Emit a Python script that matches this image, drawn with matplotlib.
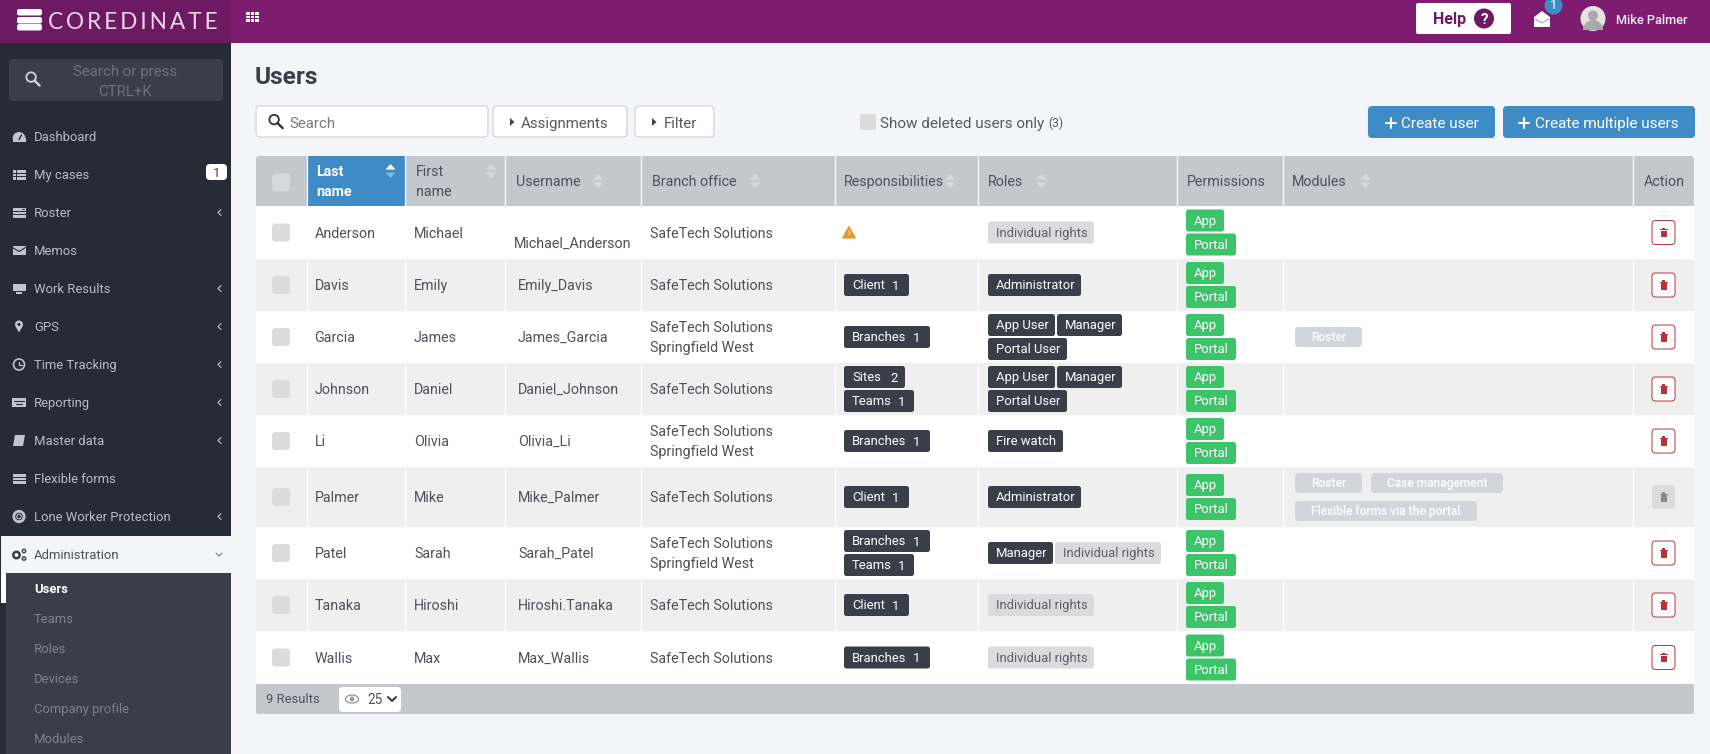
import matplotlib
matplotlib.use("Agg")
import matplotlib.pyplot as plt
from matplotlib.patches import FancyBboxPatch, Circle, Ellipse, Polygon, Wedge, Rectangle

plt.rcParams["font.family"] = ["Roboto", "DejaVu Sans"]

# --- table content ---
last_names = ["Anderson", "Davis", "Garcia", "Johnson", "Li", "Palmer", "Patel", "Tanaka", "Wallis"]
first_names = ["Michael", "Emily", "James", "Daniel", "Olivia", "Mike", "Sarah", "Hiroshi", "Max"]
usernames = ["Michael_Anderson", "Emily_Davis", "James_Garcia", "Daniel_Johnson", "Olivia_Li",
             "Mike_Palmer", "Sarah_Patel", "Hiroshi.Tanaka", "Max_Wallis"]
branches = [["SafeTech Solutions"], ["SafeTech Solutions"],
            ["SafeTech Solutions", "Springfield West"], ["SafeTech Solutions"],
            ["SafeTech Solutions", "Springfield West"], ["SafeTech Solutions"],
            ["SafeTech Solutions", "Springfield West"], ["SafeTech Solutions"], ["SafeTech Solutions"]]
responsibilities = [[], [("Client", 1)], [("Branches", 1)], [("Sites", 2), ("Teams", 1)], [("Branches", 1)],
                    [("Client", 1)], [("Branches", 1), ("Teams", 1)], [("Client", 1)], [("Branches", 1)]]
roles = [[["Individual rights"]], [["Administrator"]], [["App User", "Manager"], ["Portal User"]],
         [["App User", "Manager"], ["Portal User"]], [["Fire watch"]], [["Administrator"]],
         [["Manager", "Individual rights"]], [["Individual rights"]], [["Individual rights"]]]
modules = [[], [], [["Roster"]], [], [], [["Roster", "Case management"], ["Flexible forms via the portal"]],
           [], [], []]
menu_items = ["Dashboard", "My cases", "Roster", "Memos", "Work Results", "GPS", "Time Tracking",
              "Reporting", "Master data", "Flexible forms", "Lone Worker Protection", "Administration"]
menu_icons = ["gauge", "table", "server", "mail", "monitor", "pin", "clock", "keyboard", "book", "list",
              "ring", "cogs"]
menu_arrows = ["Roster", "Work Results", "GPS", "Time Tracking", "Reporting", "Master data",
               "Lone Worker Protection"]
submenu_items = ["Users", "Teams", "Roles", "Devices", "Company profile", "Modules"]

# --- layout in pixels ---
W, H = 1710, 754
row_edges = [206, 259, 311, 363, 415, 467, 527, 579, 631, 684]
col_edges = [256, 306.5, 405, 505, 641, 834.5, 978, 1177, 1282.5, 1632.5, 1694]
badge_widths = {"Branches": 86, "Client": 65, "Sites": 61, "Teams": 70}
count_offsets = {"Branches": 73, "Client": 52, "Sites": 50, "Teams": 58}
role_widths = {"App User": 67, "Manager": 65, "Portal User": 79, "Fire watch": 75,
               "Administrator": 93, "Individual rights": 106}
module_widths = {"Roster": 67, "Case management": 132, "Flexible forms via the portal": 182}

# --- colours ---
PURPLE = "#7e1c70"
PURPLE_DARK = "#6d1a63"
SIDEBAR = "#262b36"
SUBMENU = "#3a3e49"
PAGE = "#f3f5f8"
HEADER = "#c3c8cf"
BLUE = "#3f8bc6"
ZEBRA = "#efefef"
DARK_BADGE = "#3a3e49"
GREEN = "#3cc568"
GREY_BADGE = "#dbdbdd"
MOD_BADGE = "#d2d5da"
TEXT = "#4d5159"
MENU_TEXT = "#b8bcc4"
SUB_TEXT = "#7d828b"
RED = "#b5343c"

fig = plt.figure(figsize=(W / 100, H / 100), dpi=100)
ax = fig.add_axes([0, 0, 1, 1])
ax.set_xlim(0, W)
ax.set_ylim(H, 0)
ax.axis("off")


def box(x0, y0, x1, y1, color, r=0, ec="none", lw=0, z=2):
    if r == 0:
        ax.add_patch(Rectangle((x0, y0), x1 - x0, y1 - y0, fc=color, ec=ec, lw=lw, zorder=z))
    else:
        ax.add_patch(FancyBboxPatch((x0, y0), x1 - x0, y1 - y0, boxstyle=f"round,pad=0,rounding_size={r}",
                                    fc=color, ec=ec, lw=lw, zorder=z))


def txt(x, y, s, px=14, color=TEXT, weight="normal", ha="left", **kw):
    # baseline anchored, so that letters with and without descenders line up
    ax.text(x, y + 0.355 * px, s, fontsize=px * 0.72, color=color, fontweight=weight, ha=ha,
            va="baseline", zorder=6, **kw)


def line(xs, ys, color, lw=1.0, z=5):
    ax.plot(xs, ys, color=color, lw=lw, zorder=z, solid_capstyle="round")


def search_icon(x, y, color, s=1.0):
    ax.add_patch(Circle((x - 2 * s, y - 2 * s), 5 * s, fc="none", ec=color, lw=1.3, zorder=5))
    line([x + 1.5 * s, x + 7 * s], [y + 1.5 * s, y + 7 * s], color, 1.7)


def sort_icon(x, y, up="#d6dade", down="#d6dade"):
    ax.add_patch(Polygon([[x - 5, y - 1.5], [x + 5, y - 1.5], [x, y - 7]], fc=up, zorder=5))
    ax.add_patch(Polygon([[x - 5, y + 1.5], [x + 5, y + 1.5], [x, y + 7]], fc=down, zorder=5))


def trash(x, y, color):
    box(x - 3, y - 2, x + 3, y + 4.5, color, z=7)
    box(x - 4, y - 3.5, x + 4, y - 2.4, color, z=7)
    box(x - 1.3, y - 4.8, x + 1.3, y - 3.5, color, z=7)


def menu_icon(kind, x, y, c, bg):
    if kind == "gauge":
        ax.add_patch(Wedge((x, y + 2), 6.5, 180, 360, fc=c, zorder=5))
        box(x - 6.5, y + 1, x + 6.5, y + 5, c, z=5)
        line([x, x + 2.5], [y + 3, y - 1.5], bg, 1.0)
    elif kind == "table":
        box(x - 6.5, y - 5, x + 6.5, y + 5, c, z=5)
        line([x - 3, x - 3], [y - 5, y + 5], bg, 0.7)
        line([x - 6.5, x + 6.5], [y - 1.6, y - 1.6], bg, 0.7)
        line([x - 6.5, x + 6.5], [y + 1.6, y + 1.6], bg, 0.7)
    elif kind == "server":
        box(x - 6.5, y - 5, x + 6.5, y + 5, c, z=5)
        line([x - 6.5, x + 6.5], [y - 1.6, y - 1.6], bg, 0.7)
        line([x - 6.5, x + 6.5], [y + 1.6, y + 1.6], bg, 0.7)
        line([x + 3, x + 5], [y - 3.4, y - 3.4], bg, 0.7)
    elif kind == "mail":
        box(x - 6.5, y - 4.5, x + 6.5, y + 4.5, c, z=5)
        line([x - 6.5, x, x + 6.5], [y - 3, y + 1, y - 3], bg, 0.8)
    elif kind == "monitor":
        box(x - 6.5, y - 5, x + 6.5, y + 2.5, c, z=5)
        box(x - 3, y + 3.5, x + 3, y + 5, c, z=5)
    elif kind == "pin":
        ax.add_patch(Circle((x, y - 2), 4, fc=c, zorder=5))
        ax.add_patch(Polygon([[x - 3.5, y], [x + 3.5, y], [x, y + 6]], fc=c, zorder=5))
        ax.add_patch(Circle((x, y - 2), 1.5, fc=bg, zorder=6))
    elif kind == "clock":
        ax.add_patch(Circle((x, y), 5.5, fc="none", ec=c, lw=1.2, zorder=5))
        line([x, x, x + 2.5], [y - 3, y, y], c, 0.9)
    elif kind == "keyboard":
        box(x - 7, y - 4.5, x + 7, y + 4.5, c, z=5)
        line([x - 5, x + 5], [y - 1.5, y - 1.5], bg, 0.8)
        line([x - 3, x + 3], [y + 1.8, y + 1.8], bg, 0.8)
    elif kind == "book":
        ax.add_patch(Polygon([[x - 4, y - 5.5], [x + 6, y - 5.5], [x + 4, y + 5.5], [x - 6, y + 5.5]],
                             fc=c, zorder=5))
    elif kind == "list":
        box(x - 6.5, y - 5, x + 6.5, y + 5, c, z=5)
        line([x - 6.5, x + 6.5], [y - 1.6, y - 1.6], bg, 0.7)
        line([x - 6.5, x + 6.5], [y + 1.6, y + 1.6], bg, 0.7)
    elif kind == "ring":
        ax.add_patch(Circle((x, y), 5.2, fc="none", ec=c, lw=2.0, zorder=5))
        ax.add_patch(Circle((x, y), 2.2, fc="none", ec=c, lw=0.8, zorder=5))
    elif kind == "cogs":
        ax.add_patch(Circle((x - 2.5, y + 0.5), 3.2, fc="none", ec=c, lw=1.8, zorder=5))
        ax.add_patch(Circle((x + 5, y - 3.5), 1.7, fc="none", ec=c, lw=1.0, zorder=5))
        ax.add_patch(Circle((x + 5, y + 4), 1.7, fc="none", ec=c, lw=1.0, zorder=5))


# --- page frame ---
box(0, 0, W, H, PAGE, z=0)
box(0, 43, 231, H, SIDEBAR, z=1)
box(0, 0, W, 43, PURPLE, z=1)
box(0, 0, 231, 43, PURPLE_DARK, z=1)

# logo
for y0 in (9, 17, 24):
    box(17, y0, 42, y0 + 6.5, "white", r=2.2)
txt(48, 20.5, "\u2009".join("COREDINATE"), px=22.6, color="#e9d6e6", family=["Lato", "DejaVu Sans"])

# grid icon in top bar
for gx in (246, 250.5, 255):
    for gy in (12, 15.5, 19):
        box(gx, gy, gx + 3.6, gy + 2.8, "white")

# top right
box(1416, 3, 1511, 34, "white", r=2)
txt(1433, 18, "Help", px=16, color=PURPLE_DARK, weight="bold")
ax.add_patch(Circle((1484, 18.5), 10, fc=PURPLE_DARK, zorder=5))
txt(1484, 18.5, "?", px=15, color="white", weight="bold", ha="center")
ax.add_patch(Polygon([[1534, 17], [1542, 11], [1550, 17], [1550, 27], [1534, 27]], fc="white", zorder=5))
line([1535, 1542, 1549], [19, 23, 19], "#999999", 0.7)
ax.add_patch(Circle((1553.5, 5.5), 9, fc=BLUE, zorder=6))
ax.text(1553.5, 5.5, "1", fontsize=9.5, color="white", ha="center", va="center", zorder=7)
ax.add_patch(Circle((1593, 18.5), 12.5, fc="#e4e4e4", zorder=5))
ax.add_patch(Circle((1593, 15.5), 5, fc="#a9a9a9", zorder=6))
ax.add_patch(Wedge((1593, 30), 10, 180, 360, fc="#a9a9a9", zorder=6))
txt(1616, 19, "Mike Palmer", px=12.8, color="#f4eaf3", weight="medium")

# --- sidebar ---
box(9, 59, 223, 101, SUBMENU, r=4)
search_icon(33, 79, "#d0d3d8", 0.95)
txt(125, 71, "Search or press", px=15, color="#6c717a", ha="center")
txt(125, 91, "CTRL+K", px=15, color="#6c717a", ha="center")

for i, (item, icon) in enumerate(zip(menu_items, menu_icons)):
    y = 136.5 + i * 38
    if item == "Administration":
        box(1, y - 19, 231, y + 19, PAGE, z=2)
        menu_icon(icon, 19, y, "#3a3e49", PAGE)
        txt(34, y, item, px=13, color="#4a4e57")
        line([216, 219, 222], [y - 1.5, y + 1.5, y - 1.5], "#666a72", 0.7)
        continue
    menu_icon(icon, 19, y, "#c2c5cb", SIDEBAR)
    txt(34, y, item, px=13, color=MENU_TEXT)
    if item in menu_arrows:
        line([221, 218, 221], [y - 3, y, y + 3], "#c2c5cb", 0.8)
box(206, 164, 227, 180, "white", r=4)
txt(216.5, 172.5, "1", px=13, color="#444444", ha="center")

box(6, 573, 231, H, SUBMENU, z=2)
box(1, 573, 6, 603, "white", z=3)
for i, item in enumerate(submenu_items):
    y = 588 + i * 30
    if item == "Users":
        txt(34, y, item, px=13, color="white", weight="bold")
    else:
        txt(34, y, item, px=13, color=SUB_TEXT)

# --- toolbar ---
txt(255, 75, "Users", px=24.5, color="#3a3e49", weight="bold")
box(256, 106, 488, 137, "white", r=4, ec="#c9c9c9", lw=0.7)
search_icon(276, 121.5, "#333333", 0.95)
txt(289, 122.5, "Search", px=15, color="#7a7a7a")
for x0, x1, tri, tx, label in ((493, 627, 510, 521, "Assignments"), (635, 714, 652, 664, "Filter")):
    box(x0, 106, x1, 137, "white", r=4, ec="#c9c9c9", lw=0.7)
    ax.add_patch(Polygon([[tri, 118], [tri + 4.5, 122], [tri, 126]], fc="#444444", zorder=5))
    txt(tx, 122.5, label, px=15, color="#595959")
box(860, 114, 876, 130, "#dcdcdc", r=2)
txt(880, 122.5, "Show deleted users only", px=15.2, color="#595959")
txt(1048, 123, "(3)", px=12, color="#595959")
for x0, x1, px_, tx, label in ((1368, 1495, 1391, 1401, "Create user"),
                               (1503, 1695, 1524, 1535, "Create multiple users")):
    box(x0, 106, x1, 138, BLUE, r=4)
    line([px_ - 5, px_ + 5], [122.5, 122.5], "white", 1.5)
    line([px_, px_], [117.5, 127.5], "white", 1.5)
    txt(tx, 122.5, label, px=15.2, color="white")

# --- table ---
box(256, 156, 1694, 206, HEADER, r=3)
box(256, 200, 1694, 206, HEADER)
box(col_edges[1], 156, col_edges[2], 206, BLUE, z=3)
for i, (top, bottom) in enumerate(zip(row_edges[:-1], row_edges[1:])):
    box(256, top, 1694, bottom, "white" if i % 2 == 0 else ZEBRA, z=1)
    if i % 2:
        for cx in col_edges[1:-1]:
            line([cx, cx], [top, bottom], "white", 0.9, z=2)
for cx in col_edges[1:-1]:
    line([cx, cx], [156, 206], "white", 0.9, z=4)

box(272, 173.5, 290, 191.5, "#d5d8dc", r=3)
txt(316, 171, "Last", px=14.3, color="white", weight="bold")
txt(316, 191, "name", px=14.3, color="white", weight="bold")
txt(416, 171, "First", px=14.3)
txt(416, 191, "name", px=14.3)
sort_icon(390.5, 171, "white", "#7fb7e3")
sort_icon(491, 171)
header_labels = ["Username", "Branch office", "Responsibilities", "Roles", "Permissions", "Modules"]
header_x = [516, 652, 844, 988, 1187, 1292]
sort_x = [598, 755, 950, 1041.5, None, 1365.5]
for label, hx, sx in zip(header_labels, header_x, sort_x):
    txt(hx, 181, label, px=14.3)
    if sx:
        sort_icon(sx, 181)
txt(1664, 181, "Action", px=14.3, ha="center")

for i in range(len(last_names)):
    top, bottom = row_edges[i], row_edges[i + 1]
    yc = (top + bottom) / 2
    box(272, yc - 9, 290, yc + 9, "#dcdcdc", r=3, z=3)
    txt(314.5, yc, last_names[i], px=14.3)
    txt(414, yc, first_names[i], px=14.3)
    if i == 0:
        txt(514, yc + 10.5, usernames[i], px=14.3)
    else:
        txt(518, yc, usernames[i], px=14.3)

    # branch office, one or two lines
    lines = branches[i]
    for k, b in enumerate(lines):
        txt(650, yc + (k - (len(lines) - 1) / 2) * 20, b, px=14.3)

    # responsibilities
    resp = responsibilities[i]
    if not resp:
        ax.add_patch(Polygon([[849, yc - 6], [855.5, yc + 5.5], [842.5, yc + 5.5]], fc="#e39a2c",
                             ec="#e39a2c", lw=0.8, zorder=5))
        line([849, 849], [yc - 2, yc + 1.5], "white", 0.9, z=6)
    for k, (name, n) in enumerate(resp):
        by = yc - 11 + (k - (len(resp) - 1) / 2) * 24
        box(844, by, 844 + badge_widths[name], by + 22, DARK_BADGE, r=2.5, z=3)
        txt(852, by + 10.5, name, px=13, color="white")
        txt(844 + count_offsets[name], by + 11, str(n), px=13, color="white", ha="center")

    # roles
    rows_ = roles[i]
    for k, rr in enumerate(rows_):
        by = yc - 11 + (k - (len(rows_) - 1) / 2) * 24
        bx = 988
        for name in rr:
            grey = name == "Individual rights"
            box(bx, by, bx + role_widths[name], by + 22, GREY_BADGE if grey else DARK_BADGE, r=2.5, z=3)
            txt(bx + 8, by + 10.5, name, px=13, color="#5c5f66" if grey else "white")
            bx += role_widths[name] + 2

    # permissions
    for by, name, bw in ((yc - 23, "App", 38), (yc + 1, "Portal", 50)):
        box(1186, by, 1186 + bw, by + 22, GREEN, r=2.5, z=3)
        txt(1194, by + 10.5, name, px=13, color="white")

    # modules
    mods = modules[i]
    for k, mm in enumerate(mods):
        by = yc - 10 + (k - (len(mods) - 1) / 2) * 28
        bx = 1295
        for name in mm:
            box(bx, by, bx + module_widths[name], by + 20, MOD_BADGE, r=4, z=3)
            txt(bx + module_widths[name] / 2, by + 10, name, px=12, color="white", ha="center",
                weight="medium")
            bx += module_widths[name] + 9

    # action
    if last_names[i] == "Palmer":
        box(1652, yc - 12, 1675, yc + 12, "#dcdcdc", r=3.5, z=3)
        trash(1663.5, yc, "#85888d")
    else:
        box(1652, yc - 12, 1675, yc + 12, "white", r=3.5, ec=RED, lw=0.7, z=3)
        trash(1663.5, yc, RED)

# --- footer ---
box(256, 684, 1694, 714, HEADER, r=2)
txt(266, 698.5, "9 Results", px=13)
box(339, 687, 401, 712, "white", r=4, z=3)
ax.add_patch(Ellipse((352, 699), 13, 8, fc="none", ec="#9a9a9a", lw=1.0, zorder=5))
ax.add_patch(Circle((352, 699), 2.4, fc="#9a9a9a", zorder=5))
txt(367, 699.5, "25", px=13.5)
line([388, 392, 396], [697, 701, 697], "#333333", 1.4)

fig.savefig("out.png", dpi=100)
